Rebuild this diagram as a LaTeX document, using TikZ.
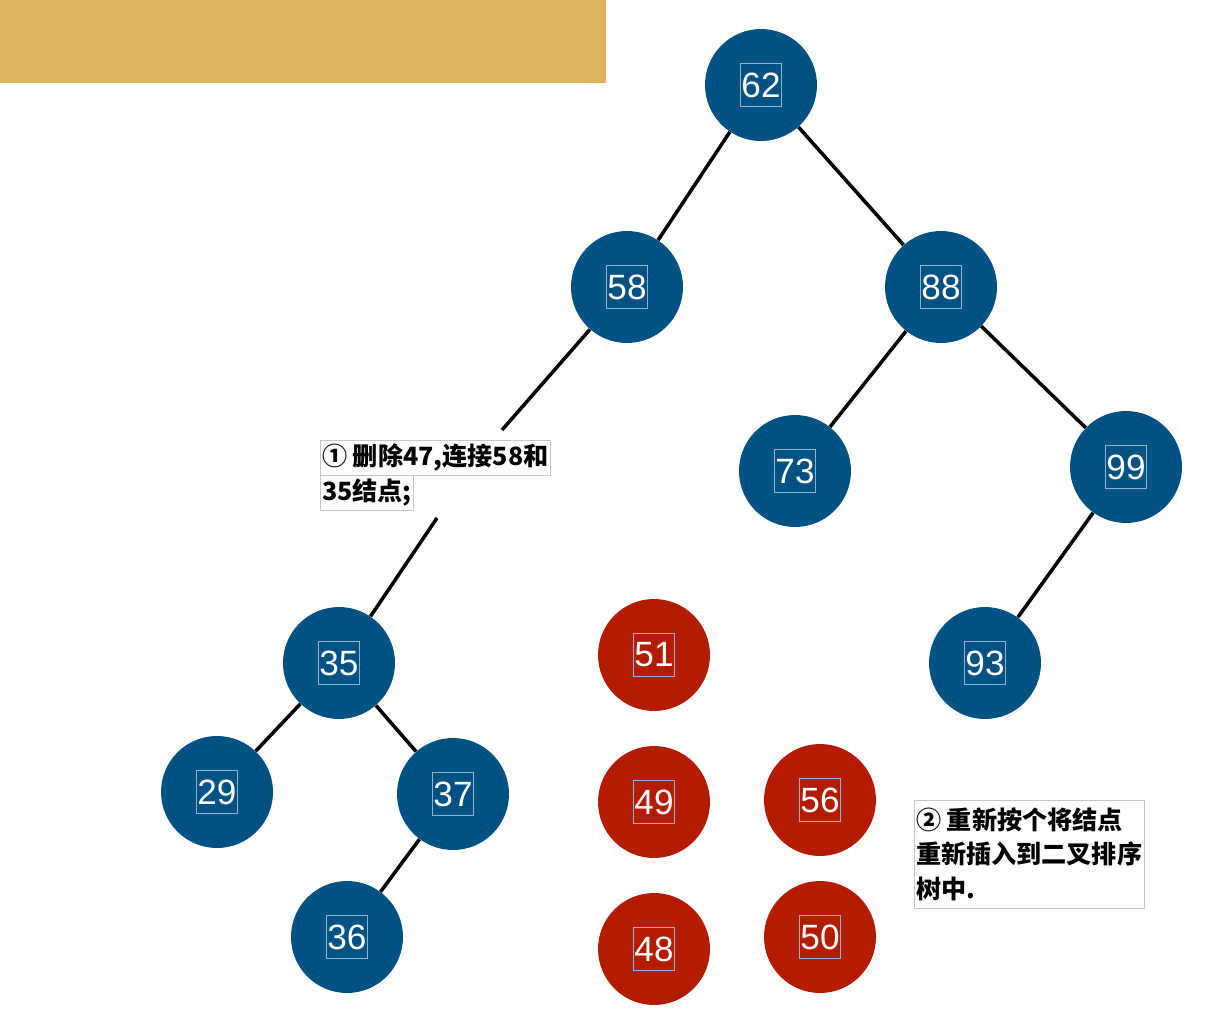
\documentclass[tikz,border=0pt]{standalone}
\usepackage{fontspec}
\setmainfont{Liberation Sans}
\newfontfamily\cjk{Noto Sans CJK SC}
\usepackage{xcolor}

\definecolor{treeblue}{HTML}{005282}
\definecolor{treered}{HTML}{B41C00}
\definecolor{bargold}{HTML}{DEB460}
\definecolor{numframe}{HTML}{8FB3CC}

\begin{document}
\begin{tikzpicture}[
  x=0.02cm, y=-0.02cm,
  num/.style={circle, minimum size=2.24cm, inner sep=0pt, text=white, font=\fontsize{20}{20}\selectfont,
    path picture={\draw[numframe, line width=0.4pt] (path picture bounding box.center) +(-11.8pt,-12.2pt) rectangle +(11.8pt,12.2pt);}},
  keep/.style={num, fill=treeblue},
  redo/.style={num, fill=treered},
  note/.style={draw=gray!45, line width=0.4pt, fill=white, inner xsep=1pt, align=left, font=\cjk\bfseries\fontsize{14.3}{19.8}\selectfont},
  every edge/.style={draw, line width=2pt}
]
  \useasboundingbox (0,0) rectangle (1210,1014);
  \fill[bargold] (0,0) rectangle (606,83);

  % tree after removing 47
  \node[keep] (n62) at (761,85) {62};
  \node[keep] (n58) at (627,287) {58};
  \node[keep] (n88) at (941,287) {88};
  \node[keep] (n73) at (795,471) {73};
  \node[keep] (n99) at (1126,467) {99};
  \node[keep] (n93) at (985,663) {93};
  \node[keep] (n35) at (339,663) {35};
  \node[keep] (n29) at (217,792) {29};
  \node[keep] (n37) at (453,794) {37};
  \node[keep] (n36) at (347,937) {36};

  % nodes to insert again
  \node[redo] (n51) at (654,655) {51};
  \node[redo] (n49) at (654,802) {49};
  \node[redo] (n56) at (820,800) {56};
  \node[redo] (n48) at (654,949) {48};
  \node[redo] (n50) at (820,937) {50};

  \coordinate (cut1) at (502,430);
  \coordinate (cut2) at (437,518);

  \draw (n62) edge (n58) edge (n88);
  \draw (n88) edge (n73) edge (n99);
  \draw (n99) edge (n93);
  \draw (n58) edge (cut1);
  \draw (cut2) edge (n35);
  \draw (n35) edge (n29) edge (n37);
  \draw (n37) edge (n36);

  \node[note, anchor=north west, minimum height=0.7cm, inner ysep=1pt] (step1a) at (320,440) {① 删除47,连接58和};
  \node[note, anchor=north west, minimum height=0.7cm, inner ysep=1pt] (step1b) at (320,475) {35结点;};
  \node[note, anchor=north west, inner ysep=4pt] (step2) at (914,800) {② 重新按个将结点\\重新插入到二叉排序\\树中.};
\end{tikzpicture}
\end{document}
